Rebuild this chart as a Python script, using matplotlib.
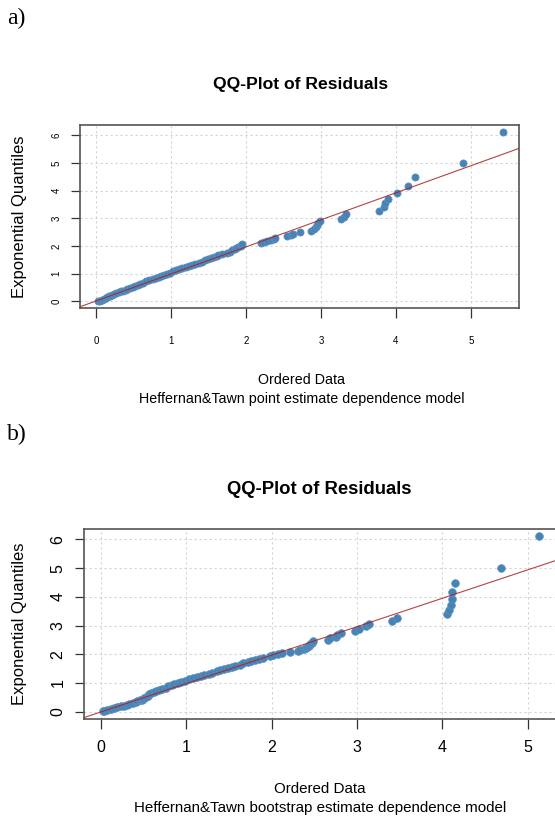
import matplotlib
matplotlib.use('Agg')
import matplotlib.pyplot as plt

plt.rcParams['font.family'] = ['Liberation Sans', 'DejaVu Sans']

W, H = 555, 823

# 面板 a：点估计模型（有序残差 vs 指数分位数）
resid_a = [0.023, 0.043, 0.074, 0.105, 0.135, 0.145, 0.166, 0.176, 0.207, 0.238,
           0.268, 0.299, 0.330, 0.361, 0.391, 0.412, 0.443, 0.484, 0.514, 0.555,
           0.586, 0.627, 0.668, 0.709, 0.750, 0.791, 0.832, 0.863, 0.904, 0.945,
           0.986, 1.027, 1.068, 1.109, 1.150, 1.191, 1.232, 1.273, 1.314, 1.365,
           1.406, 1.447, 1.488, 1.529, 1.570, 1.611, 1.631, 1.682, 1.744, 1.785,
           1.816, 1.846, 1.867, 1.898, 1.928, 1.935, 1.945,
           2.20, 2.24, 2.28, 2.33, 2.37, 2.38, 2.55, 2.60, 2.63, 2.72,
           2.87, 2.90, 2.93, 2.94, 2.96, 2.98, 3.27, 3.31, 3.33, 3.78,
           3.84, 3.86, 3.90, 4.01, 4.16, 4.25, 4.89, 5.43]
expq_a = [0.01, 0.03, 0.06, 0.09, 0.12, 0.15, 0.18, 0.21, 0.24, 0.27,
          0.30, 0.33, 0.36, 0.39, 0.42, 0.45, 0.48, 0.52, 0.56, 0.60,
          0.64, 0.68, 0.72, 0.76, 0.80, 0.84, 0.88, 0.92, 0.96, 1.00,
          1.04, 1.08, 1.12, 1.16, 1.20, 1.24, 1.28, 1.32, 1.36, 1.40,
          1.44, 1.48, 1.52, 1.56, 1.60, 1.64, 1.68, 1.72, 1.76, 1.80,
          1.84, 1.88, 1.92, 1.96, 2.00, 2.035, 2.066,
          2.102, 2.139, 2.177, 2.217, 2.259, 2.303, 2.348, 2.396, 2.446, 2.498,
          2.554, 2.613, 2.675, 2.742, 2.813, 2.890, 2.974, 3.065, 3.165, 3.276,
          3.401, 3.544, 3.711, 3.912, 4.163, 4.500, 5.011, 6.109]
line_a = (0.018, 0.976)  # 截距, 斜率

# 面板 b：bootstrap 估计模型
resid_b = [0.020, 0.040, 0.071, 0.111, 0.152, 0.192, 0.232, 0.273, 0.303, 0.333,
           0.374, 0.404, 0.424, 0.455, 0.475, 0.495, 0.505, 0.525, 0.545, 0.566,
           0.586, 0.616, 0.646, 0.677, 0.717, 0.758, 0.788, 0.828, 0.859, 0.899,
           0.939, 0.990, 1.030, 1.081, 1.121, 1.172, 1.212, 1.263, 1.303, 1.354,
           1.394, 1.444, 1.485, 1.535, 1.576, 1.626, 1.667, 1.717, 1.758, 1.808,
           1.848, 1.899,
           1.98, 2.02, 2.08, 2.12, 2.22, 2.31, 2.33, 2.38, 2.40, 2.42,
           2.44, 2.45, 2.47, 2.48, 2.66, 2.68, 2.75, 2.77, 2.81, 2.98,
           3.02, 3.11, 3.14, 3.41, 3.47, 4.06, 4.08, 4.10, 4.12, 4.12,
           4.15, 4.69, 5.13]
expq_b = [0.01, 0.03, 0.06, 0.09, 0.12, 0.15, 0.18, 0.21, 0.24, 0.27,
          0.30, 0.33, 0.36, 0.39, 0.42, 0.45, 0.48, 0.52, 0.56, 0.60,
          0.64, 0.68, 0.72, 0.76, 0.80, 0.84, 0.88, 0.92, 0.96, 1.00,
          1.04, 1.08, 1.12, 1.16, 1.20, 1.24, 1.28, 1.32, 1.36, 1.40,
          1.44, 1.48, 1.52, 1.56, 1.60, 1.64, 1.68, 1.72, 1.76, 1.80,
          1.84, 1.88,
          1.936, 1.967, 1.999, 2.032, 2.066, 2.102, 2.139, 2.177, 2.217, 2.259,
          2.303, 2.348, 2.396, 2.446, 2.498, 2.554, 2.613, 2.675, 2.742, 2.813,
          2.890, 2.974, 3.065, 3.165, 3.276, 3.401, 3.544, 3.711, 3.912, 4.163,
          4.500, 5.011, 6.109]
line_b = (-0.01, 0.99)

x_ticks = [0, 1, 2, 3, 4, 5]
y_ticks = [0, 1, 2, 3, 4, 5, 6]

title = 'QQ-Plot of Residuals'
xlab = 'Ordered Data'
ylab = 'Exponential Quantiles'
sub_a = 'Heffernan&Tawn point estimate dependence model'
sub_b = 'Heffernan&Tawn bootstrap estimate dependence model'


def px_box(l, t, r, b):
    return [l / W, 1 - b / H, (r - l) / W, (b - t) / H]


def panel(fig, box, x, y, line, xlim, ylim, tsize, xpad, ypad, ms):
    ax = fig.add_axes(box)
    ax.set_xlim(*xlim)
    ax.set_ylim(*ylim)
    ax.grid(True, color='#d3d3d3', linestyle=(0, (2, 2.5)), linewidth=0.8)
    ax.set_axisbelow(True)
    ax.scatter(x, y, s=ms, color='#4682B4', edgecolors='#5a90bf',
               linewidths=0.6, zorder=3)
    ax.axline((0, line[0]), slope=line[1], color='#A82222', linewidth=0.8,
              alpha=0.85, zorder=4)
    ax.set_xticks(x_ticks)
    ax.set_yticks(y_ticks)
    for s in ax.spines.values():
        s.set_color('#555555')
        s.set_linewidth(1.2)
    ax.tick_params(axis='x', length=7.2, width=0.9, color='#333333',
                   labelsize=tsize, pad=xpad)
    ax.tick_params(axis='y', length=6.2, width=0.9, color='#333333',
                   labelsize=tsize, pad=ypad)
    for lab in ax.get_yticklabels():
        lab.set_rotation(90)
        lab.set_va('center')
    return ax


fig = plt.figure(figsize=(W / 100, H / 100), dpi=100)

panel(fig, px_box(80, 125, 519.3, 308.3), resid_a, expq_a, line_a,
      (-0.218, 5.647), (-0.25, 6.37), 7, 12.5, 7.0, 26)
panel(fig, px_box(84, 529, 556.1, 718.5), resid_b, expq_b, line_b,
      (-0.2, 5.335), (-0.24, 6.366), 11.5, 8.5, 7.0, 30)


def ftext(x, y, s, **kw):
    fig.text(x / W, 1 - y / H, s, ha='center', va='center', **kw)


fig.text(7 / W, 1 - 18 / H, 'a)', ha='left', va='center', fontsize=17,
         family=['Liberation Serif', 'DejaVu Serif'])
fig.text(7 / W, 1 - 434 / H, 'b)', ha='left', va='center', fontsize=17,
         family=['Liberation Serif', 'DejaVu Serif'])

ftext(300.5, 85, title, fontsize=12.6, fontweight='bold')
ftext(19.6, 216.7, ylab, fontsize=12, rotation=90)
ftext(301, 380, xlab, fontsize=10.3)
ftext(301.4, 399, sub_a, fontsize=10.3)

ftext(319.5, 490, title, fontsize=13.3, fontweight='bold')
ftext(19.5, 623.7, ylab, fontsize=12, rotation=90)
ftext(319.7, 789.3, xlab, fontsize=10.9)
ftext(320, 808.3, sub_b, fontsize=10.9)

fig.savefig('out.png', dpi=100)
